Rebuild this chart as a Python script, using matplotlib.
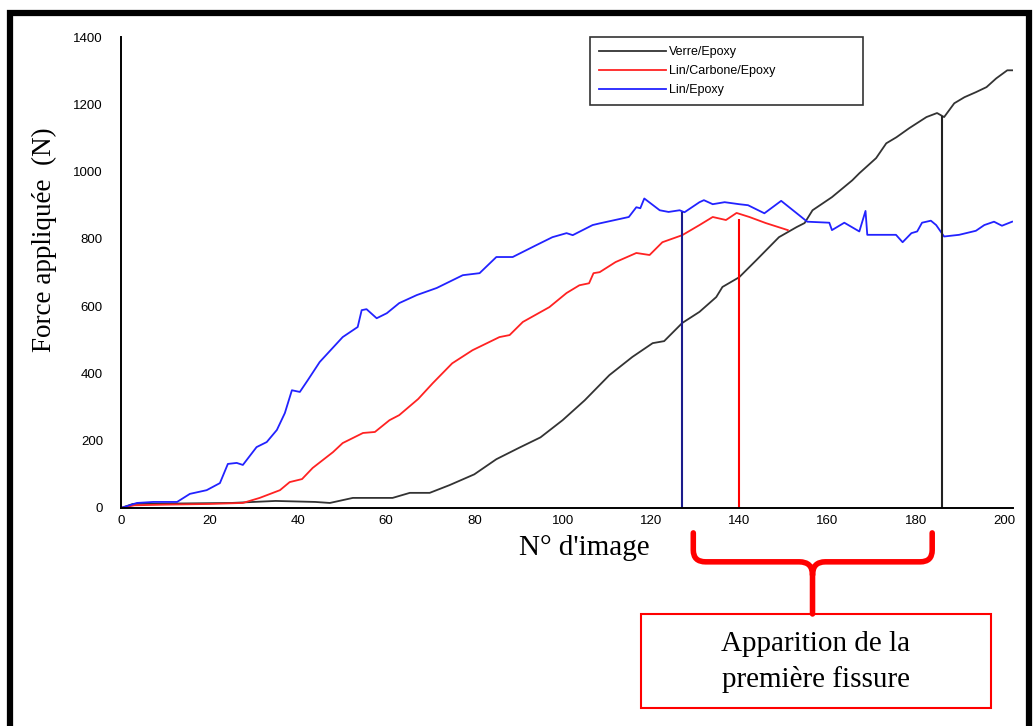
import matplotlib
matplotlib.use("Agg")
import matplotlib.pyplot as plt
from matplotlib.path import Path
from matplotlib.patches import PathPatch, Rectangle

# Verre/Epoxy
verre_x = [0, 2.7, 25, 35, 44, 47.3, 52.5, 61.5, 65.4, 69.9, 74.4, 80, 85, 90, 95, 100, 105,
           110.6, 115.8, 120.4, 123, 127.1, 131, 134.8, 136.2, 140, 143.9, 149, 153, 154.8,
           156.6, 161, 165.6, 167.2, 171, 173.3, 175.6, 178.5, 182.4, 184.8, 186.4, 188.7,
           191, 193.6, 196, 198.2, 200.7, 201.8]
verre_y = [0, 12, 15, 21, 18, 15, 30, 30, 45, 45, 68, 100, 145, 178, 210, 261, 320,
           395, 449, 490, 496, 550, 583, 627, 657, 686, 737, 805, 835, 847,
           885, 924, 974, 995, 1040, 1084, 1102, 1129, 1162, 1174, 1162, 1203,
           1221, 1236, 1251, 1277, 1301, 1301]

# Lin/Carbone/Epoxy
carbone_x = [0, 3, 10, 20, 27.6, 31.4, 36, 38.2, 41, 43.4, 48, 50.2, 54.8, 57.5, 60.8, 63,
             67.3, 70.6, 75, 79.6, 85.7, 88, 91, 97, 100.9, 103.8, 106, 107, 108.4, 112,
             116.7, 119.7, 122.6, 127.1, 131, 134, 137, 139.4, 142.3, 146, 151]
carbone_y = [0, 8, 10, 12, 15, 30, 53, 77, 86, 119, 166, 193, 223, 226, 261, 276,
             324, 371, 430, 469, 508, 514, 553, 597, 639, 662, 668, 698, 701, 731,
             758, 752, 790, 811, 841, 865, 856, 877, 865, 847, 826]

# Lin/Epoxy
lin_x = [0, 3.6, 7.3, 12.7, 15.6, 19.4, 22.4, 24.2, 26.2, 27.6, 30.7, 33, 35.3, 37.1, 38.7,
         40.5, 42.3, 45, 50.2, 53.6, 54.5, 55.6, 57.9, 60.2, 63, 67, 71.5, 77.4, 81.2, 85,
         88.7, 94, 97.7, 100.9, 102.3, 106.8, 108.4, 115, 116.7, 117.6, 118.5, 122, 124,
         126.5, 127.6, 131, 132, 134, 136.7, 140, 142, 145.7, 149.5, 153.6, 155.4, 160.4,
         161, 163.8, 167.2, 168.6, 169, 175.5, 177, 179, 180.3, 181.4, 183.4, 184.6, 186.4,
         189.8, 193.6, 195.5, 197.7, 199.5, 201.8]
lin_y = [0, 15, 18, 18, 42, 53, 74, 131, 134, 128, 181, 196, 232, 282, 350,
         345, 380, 434, 508, 538, 588, 591, 564, 579, 609, 633, 654, 692, 698, 746,
         746, 781, 805, 817, 811, 841, 846, 865, 894, 891, 920, 885, 880,
         885, 879, 909, 915, 903, 909, 903, 900, 876, 913, 870, 851, 848,
         826, 848, 822, 883, 812, 812, 790, 817, 822, 848, 854, 841, 807,
         812, 824, 841, 851, 839, 851]

# first crack: image number and force
crack_x = [127, 140, 186]
crack_y = [880, 858, 1165]
crack_col = ["#1c1c8c", "red", "#222222"]

labels = ["Verre/Epoxy", "Lin/Carbone/Epoxy", "Lin/Epoxy"]
colors = ["#333333", "#ff2222", "#2222ff"]

W, H = 1033, 726
fig = plt.figure(figsize=(W / 100, H / 100), dpi=100)
ax = fig.add_axes([121 / W, 1 - 508 / H, 892 / W, 471 / H])

ax.plot(verre_x, verre_y, color=colors[0], lw=1.3, label=labels[0])
ax.plot(carbone_x, carbone_y, color=colors[1], lw=1.3, label=labels[1])
ax.plot(lin_x, lin_y, color=colors[2], lw=1.3, label=labels[2])
for cx, cy, cc in zip(crack_x, crack_y, crack_col):
    ax.vlines(cx, 0, cy, color=cc, lw=1.5)

ax.set_xlim(0, 202)
ax.set_ylim(0, 1400)
ax.set_xticks(range(0, 201, 20))
ax.set_yticks(range(0, 1401, 200))
ax.spines["top"].set_visible(False)
ax.spines["right"].set_visible(False)
ax.spines["left"].set_linewidth(1.4)
ax.spines["bottom"].set_linewidth(1.4)
ax.tick_params(axis="y", length=0, pad=13, labelsize=9.5)
ax.tick_params(axis="x", length=0, pad=5, labelsize=9.5)
for t in ax.get_xticklabels() + ax.get_yticklabels():
    t.set_family("Liberation Sans")

fig.text(44 / W, 1 - 240 / H, "Force appliquée  (N)", rotation=90, ha="center",
         va="center", family="Liberation Serif", fontsize=19.5)
fig.text(584 / W, 1 - 548 / H, "N° d'image", ha="center", va="center",
         family="Liberation Serif", fontsize=21)

leg = ax.legend(loc="upper left", bbox_to_anchor=(590 / W, 1 - 108 / H, 273 / W, 71 / H),
                bbox_transform=fig.transFigure, mode="expand", fancybox=False,
                edgecolor="black", fontsize=9, handlelength=5.3, handletextpad=0.3,
                labelspacing=0.55, borderpad=0.75, borderaxespad=0,
                prop={"family": "Liberation Sans", "size": 9})
leg.get_frame().set_linewidth(1.2)

# curly bracket under the crack range (data x, negative y below the axis)
verts = [(129.6, -74), (129.6, -125), (129.6, -160), (132.4, -160),
         (153.6, -160), (156.6, -160), (156.6, -199), (156.6, -315),
         (156.6, -199), (156.6, -160), (159.5, -160),
         (181, -160), (183.7, -160), (183.7, -125), (183.7, -74)]
codes = [Path.MOVETO, Path.LINETO, Path.CURVE3, Path.CURVE3,
         Path.LINETO, Path.CURVE3, Path.CURVE3, Path.LINETO,
         Path.MOVETO, Path.CURVE3, Path.CURVE3,
         Path.LINETO, Path.CURVE3, Path.CURVE3, Path.LINETO]
ax.add_patch(PathPatch(Path(verts, codes), fill=False, edgecolor="red", lw=4,
                       clip_on=False, capstyle="round", joinstyle="round"))

fig.patches.append(Rectangle((641 / W, 1 - 708 / H), 350 / W, 94 / H, transform=fig.transFigure,
                             fill=False, edgecolor="red", lw=1.5))
fig.text(816 / W, 1 - 662 / H, "Apparition de la\npremière fissure", ha="center",
         va="center", family="Liberation Serif", fontsize=21, linespacing=1.45)

# outer black frame
fig.patches.append(Rectangle((10 / W, -20 / H), 1019 / W, (H - 13 + 20) / H,
                             transform=fig.transFigure, fill=False, edgecolor="black",
                             lw=4.5, clip_on=False))

fig.savefig("out.png", dpi=100)
